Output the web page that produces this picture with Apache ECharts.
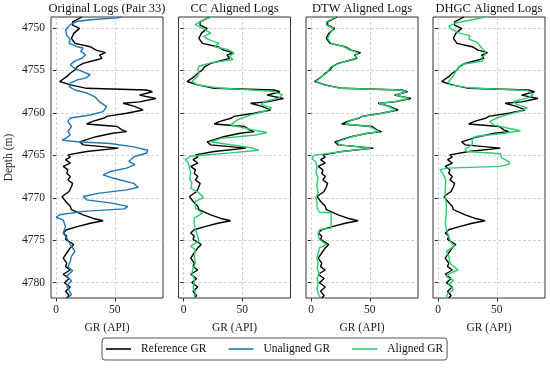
<!DOCTYPE html>
<html>
<head>
<meta charset="utf-8">
<script src="https://cdn.jsdelivr.net/npm/echarts@6/dist/echarts.min.js"></script>
<style>
html,body{margin:0;padding:0;background:#fff;}
#chart{width:550px;height:372px;}
</style>
</head>
<body>
<div id="chart"></div>
<script>
// ---------- DATA ----------
const panelTitles = ['Original Logs (Pair 33)', 'CC Aligned Logs', 'DTW Aligned Logs', 'DHGC Aligned Logs'];
const xTickValues = [0, 50];
const yTickValues = [4750, 4755, 4760, 4765, 4770, 4775, 4780];
const legendNames = ['Reference GR', 'Unaligned GR', 'Aligned GR'];

const refDepth = [4748.7, 4748.86, 4749.26, 4749.65, 4750.04, 4750.63, 4751.22, 4751.8, 4752.2, 4752.6, 4752.9, 4753.2, 4753.57, 4753.76, 4754.16, 4754.55, 4754.94, 4755.33, 4755.73, 4756.3, 4756.7, 4757.1, 4757.3, 4757.5, 4757.9, 4758.3, 4758.7, 4758.86, 4759.2, 4759.65, 4760.04, 4760.4, 4760.6, 4761.0, 4761.3, 4761.6, 4762.0, 4762.2, 4762.4, 4762.8, 4763.4, 4763.76, 4764.15, 4764.55, 4764.94, 4765.2, 4765.5, 4765.9, 4766.3, 4766.7, 4767.1, 4767.5, 4767.9, 4768.3, 4768.7, 4769.26, 4769.85, 4770.4, 4771.0, 4771.4, 4772.0, 4772.4, 4772.7, 4773.0, 4773.4, 4773.76, 4774.15, 4774.5, 4774.9, 4775.5, 4775.9, 4776.5, 4777.1, 4777.7, 4778.1, 4778.5, 4779.0, 4779.5, 4780.0, 4780.5, 4781.0, 4781.5, 4781.8];
const refGR = [22, 21, 14, 14, 20, 15, 13, 16, 29, 34, 42, 37, 39, 34, 23, 18, 16, 12, 9, 3, 12, 26, 77, 82, 71, 85, 71, 57, 66, 74, 60, 43, 41, 31, 26, 52, 56, 60, 48, 34, 20, 23, 53, 26, 10, 12, 8, 12, 6, 10, 9, 12, 10, 14, 13, 11, 5, 8, 12, 13, 23, 31, 40, 29, 18, 9, 6, 9, 8, 15, 12, 9, 6, 9, 8, 12, 6, 11, 7, 12, 8, 11, 9];

const unalignedDepth = [4748.7, 4748.8, 4749.0, 4749.2, 4749.6, 4750.2, 4750.8, 4751.4, 4751.8, 4752.2, 4752.35, 4752.75, 4753.15, 4753.55, 4753.9, 4754.3, 4754.7, 4755.1, 4755.5, 4755.9, 4756.1, 4756.5, 4756.9, 4757.3, 4757.65, 4758.1, 4758.7, 4759.26, 4759.85, 4760.24, 4760.6, 4761.0, 4761.6, 4762.2, 4762.6, 4763.0, 4763.2, 4763.4, 4763.6, 4764.0, 4764.4, 4764.75, 4765.1, 4765.7, 4766.1, 4766.5, 4766.9, 4767.3, 4767.7, 4768.3, 4768.75, 4769.06, 4769.45, 4769.85, 4770.24, 4770.6, 4771.0, 4771.3, 4771.6, 4772.0, 4772.3, 4772.6, 4773.4, 4774.15, 4774.7, 4775.5, 4776.3, 4776.9, 4777.5, 4778.1, 4778.6, 4779.2, 4779.8, 4780.4, 4780.9, 4781.4, 4781.8];
const unalignedGR = [56, 52, 32, 18, 12, 8, 9, 12, 11, 18, 23, 21, 25, 22, 16, 12, 15, 22, 29, 25, 18, 12, 11, 16, 26, 33, 37, 43, 40, 29, 12, 10, 13, 10, 12, 8, 5, 18, 46, 66, 78, 77, 67, 62, 67, 60, 46, 40, 49, 66, 70, 60, 37, 23, 26, 46, 61, 58, 23, 3, 0, 6, 8, 6, 9, 12, 16, 13, 12, 10, 14, 9, 13, 9, 11, 13, 10];

const ccDepth = [4748.7, 4749.0, 4749.6, 4750.0, 4750.6, 4751.0, 4751.4, 4751.8, 4752.2, 4752.55, 4752.95, 4753.35, 4753.7, 4754.1, 4754.5, 4754.9, 4755.3, 4755.7, 4756.3, 4756.7, 4757.05, 4757.45, 4757.85, 4758.25, 4758.65, 4759.0, 4759.4, 4759.8, 4760.2, 4760.8, 4761.4, 4762.0, 4762.3, 4762.6, 4763.0, 4763.4, 4763.75, 4764.1, 4764.4, 4764.7, 4765.1, 4765.5, 4765.9, 4766.5, 4767.1, 4767.7, 4768.3, 4768.9, 4769.4, 4770.0, 4770.4, 4771.2, 4771.8, 4772.4, 4773.0, 4773.75, 4774.5, 4775.1, 4775.7, 4776.1, 4776.9, 4777.7, 4778.3, 4778.9, 4779.5, 4780.0, 4780.6, 4781.2, 4781.8];
const ccGR = [24, 17, 10, 16, 23, 17, 22, 30, 26, 38, 43, 39, 42, 23, 13, 12, 13, 12, 7, 12, 29, 75, 84, 81, 69, 66, 75, 69, 58, 46, 40, 59, 71, 61, 32, 23, 40, 58, 64, 40, 6, 1.5, 4, 5, 6, 5, 7, 6, 13, 17, 10, 10, 16, 9, 9, 10, 12, 13, 6, 10, 9, 10, 8, 7, 9, 9, 8, 10, 9];

const dtwDepth = [4748.7, 4748.86, 4749.26, 4749.65, 4750.04, 4750.63, 4751.22, 4751.8, 4752.2, 4752.6, 4752.9, 4753.2, 4753.57, 4753.76, 4754.16, 4754.55, 4754.94, 4755.33, 4755.73, 4756.3, 4756.7, 4757.1, 4757.3, 4757.5, 4757.9, 4758.3, 4758.7, 4758.86, 4759.2, 4759.65, 4760.04, 4760.4, 4760.6, 4761.0, 4761.3, 4761.6, 4762.0, 4762.2, 4762.4, 4762.8, 4763.4, 4763.76, 4764.15, 4764.55, 4765.0, 4765.4, 4765.8, 4766.4, 4767.0, 4767.6, 4768.2, 4768.8, 4769.4, 4770.0, 4770.6, 4771.2, 4771.7, 4771.75, 4773.55, 4773.75, 4774.3, 4774.9, 4775.5, 4775.9, 4776.5, 4777.1, 4777.7, 4778.3, 4778.9, 4779.5, 4780.1, 4780.7, 4781.3, 4781.8];
const dtwGR = [21, 20, 13, 13, 19, 16, 14, 17, 28, 33, 40, 38, 38, 33, 24, 17, 15, 13, 9, 4, 11, 25, 75, 81, 72, 83, 70, 58, 65, 72, 61, 44, 40, 32, 29, 50, 55, 58, 47, 35, 22, 24, 51, 27, 2, 1, 4, 5, 4, 6, 5, 5, 6, 4, 5, 5, 7, 17, 17, 7, 6, 7, 13, 7, 6, 5, 6, 5, 7, 5, 6, 5, 6, 8];

const dhgcDepth = [4748.7, 4749.0, 4749.4, 4749.8, 4750.2, 4750.6, 4750.9, 4751.3, 4751.6, 4752.0, 4752.35, 4752.75, 4753.15, 4753.5, 4753.9, 4754.1, 4754.3, 4754.7, 4755.1, 4755.8, 4756.3, 4756.7, 4757.05, 4757.35, 4757.85, 4758.25, 4758.65, 4759.0, 4759.4, 4759.8, 4760.2, 4760.6, 4761.0, 4761.4, 4761.8, 4762.1, 4762.4, 4762.75, 4762.95, 4763.75, 4764.25, 4764.55, 4764.8, 4765.3, 4765.7, 4766.0, 4766.3, 4766.5, 4766.7, 4767.1, 4767.9, 4768.8, 4769.8, 4770.8, 4771.8, 4773.0, 4773.75, 4774.55, 4775.3, 4775.7, 4776.3, 4776.9, 4777.7, 4778.5, 4778.9, 4779.3, 4779.7, 4780.25, 4780.85, 4781.3, 4781.8];
const dhgcGR = [40, 30, 15, 9, 12, 18, 27, 26, 32, 35, 37, 40, 40, 37, 38, 39, 20, 17, 15, 12, 9, 10, 27, 76, 81, 76, 64, 67, 76, 70, 59, 50, 44, 47, 60, 70, 56, 33, 29, 29, 23, 24, 53, 54, 60, 61, 53, 7, 1.5, 4, 6.5, 6, 6, 7, 7, 6, 7, 9, 11, 14, 7, 9, 10, 17, 10, 7, 13, 9, 13, 8, 7];

// ---------- STYLE ----------
const FONT = 'Liberation Serif';
const BLACK = '#000000', BLUE = '#1f77b4', GREEN = '#2ecc71';
const gridLeft = [51, 178.5, 306, 433];
const gridW = 112, gridTop = 17, gridH = 281;
const X_MIN = -4.4, X_MAX = 91, Y_MIN = 4748.7, Y_MAX = 4781.8;

function pairs(depth, vals) { return depth.map((d, i) => [vals[i], d]); }

const grids = [], xAxes = [], yAxes = [], titles = [], series = [];
for (let p = 0; p < 4; p++) {
  grids.push({ left: gridLeft[p], top: gridTop, width: gridW, height: gridH,
    show: true, borderColor: '#333', borderWidth: 1, backgroundColor: 'transparent' });
  xAxes.push({ gridIndex: p, type: 'value', min: X_MIN, max: X_MAX,
    name: 'GR (API)', nameLocation: 'middle', nameGap: 24,
    nameTextStyle: { fontFamily: FONT, fontSize: 11.5, color: '#222' },
    axisLine: { show: false },
    axisTick: { show: true, length: 3.5, customValues: xTickValues, lineStyle: { color: '#333' } },
    axisLabel: { customValues: xTickValues, fontFamily: FONT, fontSize: 11.5, color: '#222', margin: 6 },
    splitLine: { show: true, lineStyle: { color: '#c8c8c8', type: [3, 2], width: 0.8 } } });
  yAxes.push({ gridIndex: p, type: 'value', inverse: true, min: Y_MIN, max: Y_MAX,
    name: p === 0 ? 'Depth (m)' : '', nameLocation: 'middle', nameGap: 36, nameRotate: 90,
    nameTextStyle: { fontFamily: FONT, fontSize: 11.5, color: '#222' },
    axisLine: { show: false },
    axisTick: { show: true, length: 3.5, customValues: yTickValues, lineStyle: { color: '#333' } },
    axisLabel: { show: p === 0, customValues: yTickValues, formatter: v => String(v),
      fontFamily: FONT, fontSize: 11.5, color: '#222', margin: 6 },
    splitLine: { show: true, lineStyle: { color: '#c8c8c8', type: [3, 2], width: 0.8 } } });
  titles.push({ text: panelTitles[p], left: gridLeft[p] + gridW / 2, top: 2, padding: 0, textAlign: 'center',
    textStyle: { fontFamily: FONT, fontSize: 12.5, fontWeight: 'normal', color: '#111' } });
  series.push({ name: 'Reference GR', type: 'line', xAxisIndex: p, yAxisIndex: p,
    data: pairs(refDepth, refGR), symbol: 'none', lineStyle: { color: BLACK, width: 1.4 }, itemStyle: { color: BLACK }, animation: false });
}
const alignedSets = [[ccDepth, ccGR], [dtwDepth, dtwGR], [dhgcDepth, dhgcGR]];
series.push({ name: 'Unaligned GR', type: 'line', xAxisIndex: 0, yAxisIndex: 0,
  data: pairs(unalignedDepth, unalignedGR), symbol: 'none', lineStyle: { color: BLUE, width: 1.4 }, itemStyle: { color: BLUE }, animation: false });
alignedSets.forEach((s, k) => {
  series.push({ name: 'Aligned GR', type: 'line', xAxisIndex: k + 1, yAxisIndex: k + 1,
    data: pairs(s[0], s[1]), symbol: 'none', lineStyle: { color: GREEN, width: 1.4 }, itemStyle: { color: GREEN }, animation: false });
});

const chart = echarts.init(document.getElementById('chart'), null, { renderer: 'canvas' });
chart.setOption({
  animation: false,
  backgroundColor: '#fff',
  title: titles,
  grid: grids,
  xAxis: xAxes,
  yAxis: yAxes,
  legend: { data: legendNames, left: 102, top: 338, padding: [5, 4], itemGap: 22, itemWidth: 25, itemHeight: 1.6,
    icon: 'rect',
    borderColor: '#555', borderWidth: 1, borderRadius: 3,
    textStyle: { fontFamily: FONT, fontSize: 11.5, color: '#111', padding: [0, 0, 0, 5] } },
  series: series
});
</script>
</body>
</html>
